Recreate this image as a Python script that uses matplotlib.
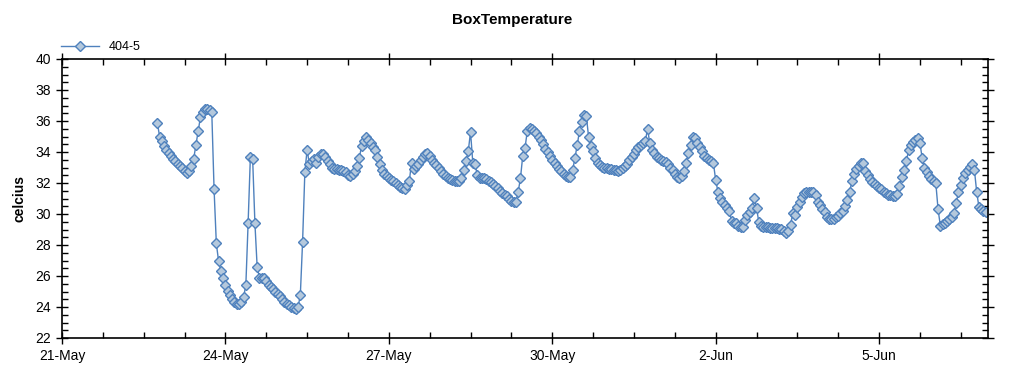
import pandas as pd
import matplotlib
matplotlib.use("Agg")
import matplotlib.pyplot as plt
import matplotlib.dates as mdates
from matplotlib.ticker import MultipleLocator, FuncFormatter

# hourly readings, first one at 22-May 18:00
start = "2010-05-22 18:00"
day_22 = [35.9, 35.0, 34.7, 34.4, 34.15, 33.95]
day_23 = [33.75, 33.55, 33.4, 33.25, 33.1, 32.95, 32.8, 32.65, 32.8, 33.1, 33.55, 34.45,
          35.35, 36.25, 36.6, 36.75, 36.75, 36.7, 36.55, 31.6, 28.1, 26.95, 26.3, 25.85]
day_24 = [25.45, 25.05, 24.8, 24.5, 24.3, 24.2, 24.2, 24.35, 24.65, 25.4, 29.4, 33.7,
          33.55, 29.4, 26.55, 25.9, 25.9, 25.85, 25.65, 25.45, 25.3, 25.15, 25.0, 24.85]
day_25 = [24.7, 24.5, 24.35, 24.2, 24.1, 24.0, 23.95, 23.85, 24.0, 24.75, 28.2, 32.7,
          34.15, 33.2, 33.4, 33.55, 33.3, 33.7, 33.85, 33.9, 33.7, 33.45, 33.2, 33.0]
day_26 = [32.9, 32.9, 32.85, 32.85, 32.8, 32.7, 32.5, 32.45, 32.55, 32.75, 33.1, 33.6,
          34.4, 34.7, 34.95, 34.8, 34.6, 34.35, 34.15, 33.65, 33.2, 32.85, 32.6, 32.45]
day_27 = [32.35, 32.2, 32.1, 32.0, 31.85, 31.75, 31.65, 31.6, 31.85, 32.1, 33.3, 32.9,
          33.1, 33.2, 33.5, 33.7, 33.85, 33.95, 33.75, 33.5, 33.3, 33.15, 32.95, 32.75]
day_28 = [32.6, 32.45, 32.35, 32.25, 32.2, 32.15, 32.1, 32.1, 32.3, 32.85, 33.4, 34.05,
          35.3, 33.3, 33.2, 32.5, 32.35, 32.3, 32.3, 32.25, 32.15, 32.05, 31.95, 31.8]
day_29 = [31.65, 31.5, 31.35, 31.25, 31.15, 31.0, 30.85, 30.8, 30.8, 31.45, 32.3, 33.75,
          34.25, 35.35, 35.55, 35.5, 35.35, 35.2, 35.0, 34.75, 34.5, 34.2, 34.0, 33.75]
day_30 = [33.5, 33.3, 33.1, 32.9, 32.75, 32.6, 32.45, 32.4, 32.4, 32.85, 33.6, 34.45,
          35.35, 35.95, 36.4, 36.35, 35.0, 34.4, 34.05, 33.6, 33.3, 33.15, 33.05, 33.0]
day_31 = [32.95, 32.9, 32.9, 32.85, 32.85, 32.8, 32.85, 32.95, 33.1, 33.25, 33.5, 33.7,
          33.85, 34.1, 34.3, 34.45, 34.6, 34.7, 35.5, 34.55, 34.15, 33.95, 33.7, 33.6]
jun_1 = [33.5, 33.45, 33.35, 33.2, 33.0, 32.85, 32.6, 32.4, 32.35, 32.45, 32.75, 33.3,
         33.95, 34.45, 35.0, 34.9, 34.6, 34.3, 34.05, 33.75, 33.6, 33.5, 33.4, 33.3]
jun_2 = [32.2, 31.45, 31.05, 30.75, 30.55, 30.4, 30.2, 29.55, 29.45, 29.4, 29.2, 29.15,
         29.15, 29.6, 29.95, 30.1, 30.4, 31.05, 30.4, 29.5, 29.2, 29.15, 29.15, 29.15]
jun_3 = [29.1, 29.1, 29.1, 29.1, 29.05, 29.05, 28.9, 28.8, 28.9, 29.3, 30.05, 29.95,
         30.45, 30.8, 31.1, 31.35, 31.4, 31.45, 31.45, 31.4, 31.2, 30.8, 30.6, 30.35]
jun_4 = [30.15, 29.8, 29.7, 29.7, 29.7, 29.8, 29.9, 30.05, 30.2, 30.5, 30.9, 31.4,
         32.1, 32.6, 32.9, 33.1, 33.3, 33.3, 32.8, 32.5, 32.25, 32.05, 31.95, 31.8]
jun_5 = [31.7, 31.6, 31.45, 31.35, 31.25, 31.2, 31.15, 31.15, 31.3, 31.8, 32.4, 32.85,
         33.4, 34.1, 34.45, 34.65, 34.75, 34.9, 34.6, 33.6, 33.0, 32.7, 32.45, 32.25]
jun_6 = [32.1, 32.0, 30.3, 29.25, 29.35, 29.45, 29.55, 29.65, 29.8, 30.05, 30.7, 31.45,
         31.9, 32.3, 32.65, 32.85, 33.05, 33.2, 32.85, 31.45, 30.45, 30.3, 30.2, 30.1]

temps = (day_22 + day_23 + day_24 + day_25 + day_26 + day_27 + day_28 + day_29 + day_30
         + day_31 + jun_1 + jun_2 + jun_3 + jun_4 + jun_5 + jun_6)
times = pd.date_range(start, periods=len(temps), freq="h")

plt.rcParams["font.family"] = ["Liberation Sans", "DejaVu Sans"]

fig = plt.figure(figsize=(10.24, 3.75), dpi=100)
ax = fig.add_axes([62 / 1024, 1 - 338 / 375, (988 - 62) / 1024, (338 - 59) / 375])

line, = ax.plot(times, temps, color="#4f81bd", lw=1.0, marker="D", ms=5.5,
                mfc="#b4c8dc", mec="#4f81bd", mew=1.0, label="404-5")

x0 = pd.Timestamp("2010-05-21")
x1 = pd.Timestamp("2010-06-07")
ax.set_xlim(x0, x1)
ax.set_ylim(22, 40)

ax.set_xticks(pd.date_range(x0, x1, freq="3D"))
ax.set_xticks(pd.date_range(x0, x1, freq="18h"), minor=True)
ax.xaxis.set_major_formatter(
    FuncFormatter(lambda v, pos: "%d-%s" % (mdates.num2date(v).day, mdates.num2date(v).strftime("%b"))))
ax.yaxis.set_major_locator(MultipleLocator(2))
ax.yaxis.set_minor_locator(MultipleLocator(0.5))

ax.tick_params(which="major", direction="inout", length=8, width=1, labelsize=10,
               top=True, right=True, pad=4)
ax.tick_params(which="minor", direction="in", length=4, width=1, top=True, right=True)
for s in ax.spines.values():
    s.set_linewidth(1.2)

ax.set_ylabel("celcius", fontsize=10, fontweight="bold", labelpad=6)
fig.suptitle("BoxTemperature", x=0.5, y=0.965, fontsize=11, fontweight="bold")
fig.legend(handles=[line], loc="upper left", bbox_to_anchor=(0.055, 0.904), frameon=False,
           fontsize=9, handlelength=3, borderaxespad=0)

fig.savefig("out.png", dpi=100)
